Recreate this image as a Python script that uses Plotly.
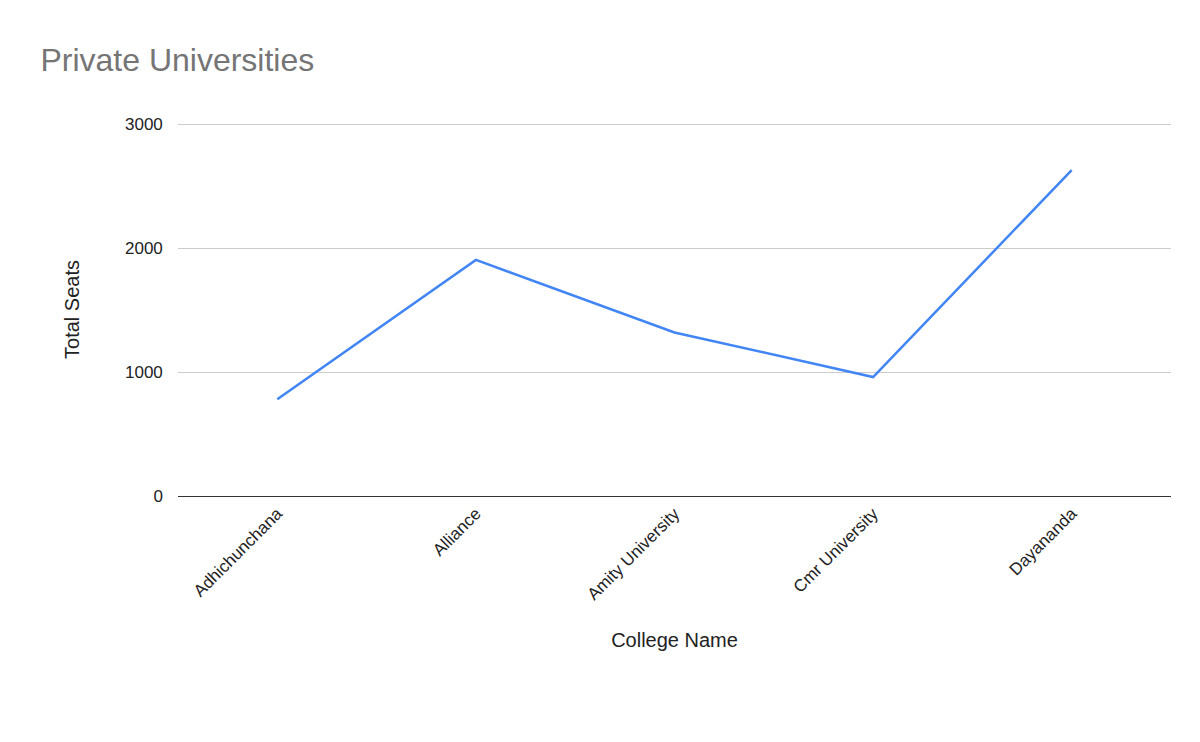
import plotly.graph_objects as go

colleges = ['Adhichunchana', 'Alliance', 'Amity University', 'Cmr University', 'Dayananda']
total_seats = [780, 1905, 1320, 960, 2630]

fig = go.Figure(go.Scatter(x=colleges, y=total_seats, mode='lines',
                           line=dict(color='#4285f4', width=2.5)))
fig.update_layout(
    width=1200, height=742,
    paper_bgcolor='white', plot_bgcolor='white',
    font=dict(family='Arial, Liberation Sans', size=17, color='#222'),
    title=dict(text='Private Universities', x=0.027, y=0.945,
               font=dict(size=32, color='#757575')),
    margin=dict(l=170, r=37, t=115, b=254),
    showlegend=False,
)
fig.update_xaxes(title_text='College Name', tickangle=-45, showgrid=False,
                 range=[-0.5, 4.5], showline=True, linecolor='#333',
                 title_standoff=30)
fig.update_yaxes(title_text='Total Seats', range=[0, 3010], dtick=1000,
                 gridcolor='#cccccc', zeroline=False, ticklen=0,
                 ticksuffix='   ', title_standoff=40)
fig.write_html('out.html')
